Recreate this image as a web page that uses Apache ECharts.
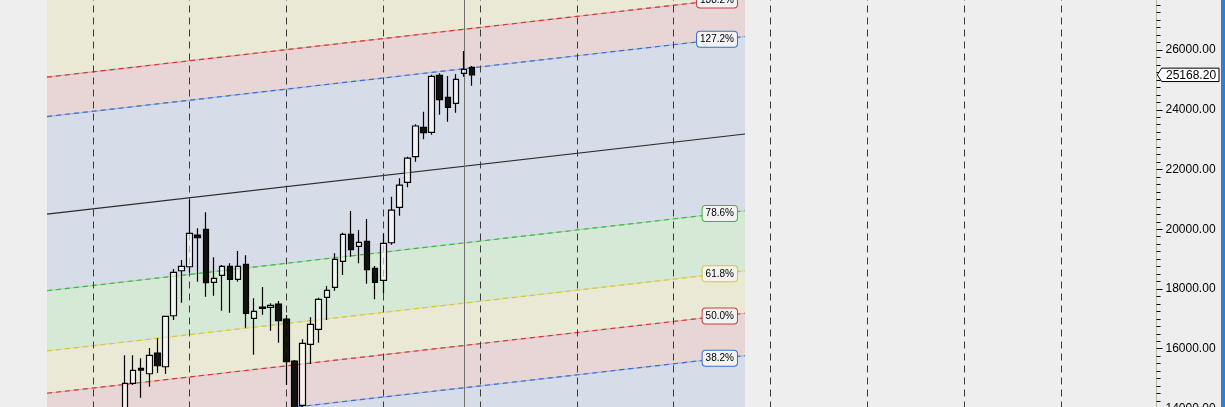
<!DOCTYPE html>
<html><head><meta charset="utf-8">
<script src="https://cdn.jsdelivr.net/npm/echarts@6/dist/echarts.min.js"></script>
<style>html,body{margin:0;padding:0;background:#eeeeee;}#c{width:1225px;height:407px;}</style>
</head><body><div id="c"></div>
<script>
// ---- data (monthly candles; index = month number on the x scale) ----
const months = [16,17,18,19,20,21,22,23,24,25,26,27,28,29,30,31,32,33,34,35,36,37,38,39,40,41,42,43,44,45,46,47,48,49,50,51,52,53,54,55,56,57,58,59];
const opens  = [13600,14841,15343,15163,15856,15397,17104,18611,18745,19806,19997,18223,18457,18758,18323,18825,17017,17396,17386,17496,16994,15588,14105,16147,16649,17720,18055,18926,19830,19428,19595,18691,18290,19548,20734,21571,22428,23412,23245,25153,24416,24216,25220,25421];
const closes = [14841,15276,15286,15779,15430,17084,18557,18758,19863,19716,18209,18356,18758,18323,18758,17185,17252,17352,17453,16937,15564,13947,16180,16816,17653,17955,18993,19830,19314,19562,18645,18222,19528,20643,21480,22384,23456,23231,25120,24336,24082,25019,25354,25168.2];
const lows   = [13400,14784,14359,14727,15186,15152,16960,17540,18534,18243,17741,17774,17272,17205,18243,16703,15799,17138,16602,16200,14784,13612,14014,15487,16200,16960,17941,18467,19080,18859,18176,17653,17848,19481,20452,21403,22260,23010,23164,23834,23599,23901,25106,24805];
const highs  = [15779,15779,15678,16023,16348,17100,18668,18969,20978,20031,20566,19060,18802,18859,19271,19127,17687,18065,17520,17597,17128,15621,16314,17051,17707,18099,19194,19883,20610,19974,20342,18768,19863,21088,21704,22428,23512,23934,25173,25220,25130,25196,25967,25464];
const yearStarts = [12,24,36,48,60,72,84,96,108,120,132];
const cursorMonth = 58;
const lastPrice = 25168.20;

// Fibonacci channel lines: value at channel start / channel end
const fibLabels = ['23.6%','38.2%','50.0%','61.8%','78.6%','100%','127.2%','138.2%'];
const fibStart = 6.32, fibEnd = 92.84;
const fibLeft  = [11341,13093,14509,15925,17941,20509,23773,25093];
const fibRight = [14020,15772,17188,18604,20620,23188,26452,27772];

// y scale ticks
const yMin = 14000, yMax = 28000, yStep = 2000;
const xMin = 6.32, xMax = 143.84;

// ---- styles ----
const lineColors = ['#3cb83c','#3a6fcf','#cc3a3a','#d4c83a','#3cb83c','#2a2a2a','#3a6fcf','#cc3a3a'];
const BLUE='#d6dce8', PINK='#e8d6d7', YEL='#eae9d6', GRN='#d6e8d6';
const bandColors = [BLUE,PINK,YEL,GRN,BLUE,BLUE,PINK,YEL];

const candleData = months.map((m,i)=>[m, opens[i], closes[i], lows[i], highs[i]]);
const bandData = [];
for (let i=0;i<fibLabels.length;i++){
  const hiL = i+1<fibLabels.length ? fibLeft[i+1] : yMax;
  const hiR = i+1<fibLabels.length ? fibRight[i+1] : yMax;
  bandData.push([fibStart, fibEnd, fibLeft[i], fibRight[i], hiL, hiR]);
}
function lineAt(i, x){ return fibLeft[i] + (fibRight[i]-fibLeft[i])*(x-fibStart)/(fibEnd-fibStart); }

const labelRightX = 91.84, labelMidX = 89.8;
const fibSeries = [];
fibLabels.forEach((lab,i)=>{
  const isBase = lab==='100%';
  const pts = [[fibStart, fibLeft[i]],[fibEnd, fibRight[i]]];
  if(!isBase){
    fibSeries.push({type:'line', z:3, silent:true, showSymbol:false, symbol:'none', data:pts,
      lineStyle:{color: lineColors[i], width:1.2, opacity:0.35, type:'solid'}, animation:false});
  }
  const s = {
    type:'line', z:3, silent:true, showSymbol:false, symbol:'none',
    data:pts,
    lineStyle:{color: lineColors[i], width: 1.2, type: isBase?'solid':[5,4]},
    animation:false
  };
  if(!isBase){
    s.markPoint = {
      symbol:'circle', symbolSize:0, silent:true, animation:false,
      data:[{coord:[labelRightX, lineAt(i,labelMidX)], value:lab}],
      label:{show:true, position:'left', distance:0, formatter:lab,
        fontSize:10, fontFamily:'Liberation Sans', color:'#000',
        backgroundColor:'#f3f3f3', borderColor: lineColors[i], borderWidth:1,
        borderRadius:3, padding:[2,3,1,3], lineHeight:12}
    };
  }
  fibSeries.push(s);
});

const chart = echarts.init(document.getElementById('c'), null, {renderer:'canvas'});
chart.setOption({
  animation:false,
  backgroundColor:'#eeeeee',
  grid:{left:47, right:68.5, top:-9.74, bottom:-1.48, containLabel:false, outerBoundsMode:'none'},
  xAxis:{type:'value', min:xMin, max:xMax, show:false, splitLine:{show:false}},
  yAxis:{type:'value', position:'right', min:yMin, max:yMax, interval:yStep,
    axisLine:{show:true, lineStyle:{color:'#b9b9a6', width:1}},
    axisTick:{show:true, length:6, lineStyle:{color:'#000', width:1}},
    minorTick:{show:true, splitNumber:8, length:4, lineStyle:{color:'#000', width:1}},
    splitLine:{show:false},
    axisLabel:{margin:9, color:'#000', fontSize:12, fontFamily:'Liberation Sans', formatter:v=>v.toFixed(2)}
  },
  series:[
    {type:'custom', z:1, silent:true, clip:true,
      data: bandData,
      encode:{x:[0,1], y:[2,3,4,5]},
      renderItem:(params, api)=>{
        const x0=api.value(0), x1=api.value(1);
        const pts=[api.coord([x0,api.value(2)]), api.coord([x1,api.value(3)]), api.coord([x1,api.value(5)]), api.coord([x0,api.value(4)])];
        return {type:'polygon', shape:{points:pts}, style:{fill:bandColors[params.dataIndex], stroke:null}};
      }
    },
    {type:'line', z:2, silent:true, data:[], symbol:'none',
      markLine:{silent:true, symbol:'none', animation:false, label:{show:false},
        lineStyle:{color:'#3a3a3a', width:1, type:[7,5]},
        data: yearStarts.map(v=>({xAxis:v}))
      }
    },
    {type:'line', z:2, silent:true, data:[], symbol:'none',
      markLine:{silent:true, symbol:'none', animation:false, label:{show:false},
        lineStyle:{color:'#707070', width:1, type:'solid'},
        data:[{xAxis:cursorMonth}]
      }
    },
    ...fibSeries,
    {type:'candlestick', z:8, silent:true, barWidth:6,
      data: candleData,
      encode:{x:0, y:[1,2,3,4]},
      itemStyle:{color:'rgba(255,255,255,0.6)', color0:'rgba(0,0,0,0.92)', borderColor:'#000', borderColor0:'#000', borderWidth:1.2}
    }
  ]
});

const py = chart.convertToPixel({yAxisIndex:0}, lastPrice);
const px = chart.convertToPixel({xAxisIndex:0}, xMax);
chart.setOption({graphic:{elements:[
  {type:'rect', id:'strip', z:100, left:1221, top:0, shape:{width:4, height:407}, style:{fill:'#2f7fd4'}},
  {type:'polygon', id:'pbox', z:100, shape:{points:[[px+0.8,py],[px+5.2,py-6.7],[px+62.5,py-6.7],[px+62.5,py+6.7],[px+5.2,py+6.7]]},
    style:{fill:'#ffffff', stroke:'#000', lineWidth:1}},
  {type:'text', id:'ptxt', z:101, x:px+9.5, y:py+0.5, style:{text:lastPrice.toFixed(2), font:'12px "Liberation Sans"', fill:'#000', verticalAlign:'middle', align:'left'}}
]}});
</script></body></html>
